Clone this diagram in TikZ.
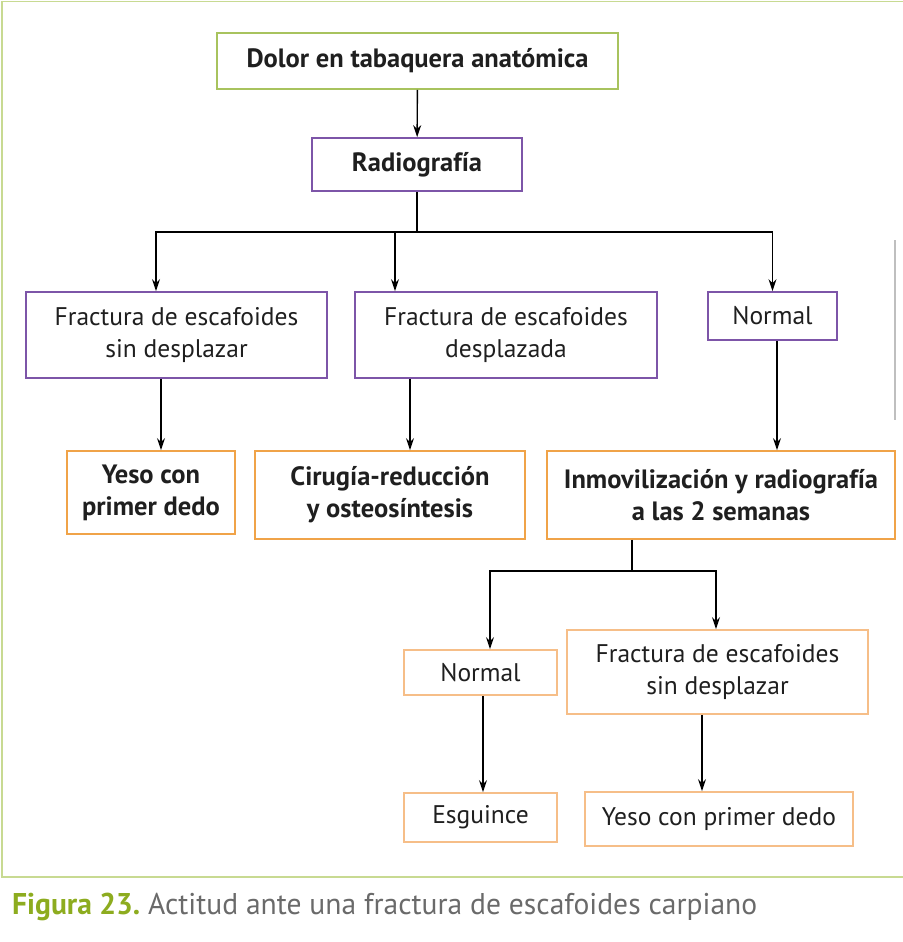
\documentclass[tikz,border=0pt]{standalone}
\usepackage{fontspec}
\setmainfont{PT Sans}
\usetikzlibrary{arrows.meta}
\definecolor{marco}{HTML}{C8DA92}
\definecolor{verdecaja}{HTML}{A8C35E}
\definecolor{morado}{HTML}{7D55A8}
\definecolor{naranja}{HTML}{F0A348}
\definecolor{naranjaclaro}{HTML}{F6BE88}
\definecolor{verdepie}{HTML}{8DAC1F}
\definecolor{grispie}{HTML}{6A6A6A}
\begin{document}
\begin{tikzpicture}[x=1pt,y=-1pt,
    caja/.style={draw, line width=1.8pt, inner sep=0pt, align=center,
      font=\fontsize{25.5}{32}\selectfont, text=black!88},
    cajab/.style={caja, font=\fontsize{26.5}{32}\selectfont\bfseries},
    flecha/.style={line width=1.4pt, -{Stealth[length=12pt,width=8pt]}},
    linea/.style={line width=1.4pt}]
  \useasboundingbox (0,0) rectangle (902,942);
  % marco exterior
  \draw[marco, line width=1.6pt] (905,1.5) -- (2,1.5) -- (2,877) -- (905,877);
  \draw[black!25, line width=1.2pt] (895,240) -- (895,420);

  % cajas
  \node[cajab, draw=verdecaja, minimum width=401pt, minimum height=56pt] (dolor) at (417.5,61) {Dolor en tabaquera anatómica};
  \node[cajab, draw=morado, minimum width=210pt, minimum height=53pt] (radio) at (417,164.5) {Radiografía};
  \node[caja, draw=morado, minimum width=301pt, minimum height=86pt] (fsd) at (176.5,335) {Fractura de escafoides\\sin desplazar};
  \node[caja, draw=morado, minimum width=302pt, minimum height=86pt] (fd) at (506,335) {Fractura de escafoides\\desplazada};
  \node[caja, draw=morado, minimum width=129pt, minimum height=48pt] (norm) at (772.5,316) {Normal};
  \node[cajab, draw=naranja, minimum width=168pt, minimum height=83pt] (yeso) at (151,492.5) {Yeso con\\primer dedo};
  \node[cajab, draw=naranja, minimum width=270pt, minimum height=88pt] (ciru) at (390,495) {Cirugía-reducción\\y osteosíntesis};
  \node[cajab, draw=naranja, minimum width=348pt, minimum height=88pt] (inmo) at (721,495) {Inmovilización y radiografía\\a las 2 semanas};
  \node[caja, draw=naranjaclaro, minimum width=153pt, minimum height=45pt] (normb) at (480.5,672.5) {Normal};
  \node[caja, draw=naranjaclaro, minimum width=301pt, minimum height=84pt] (fsdb) at (717.5,672) {Fractura de escafoides\\sin desplazar};
  \node[caja, draw=naranjaclaro, minimum width=153pt, minimum height=49pt] (esg) at (480.5,817.5) {Esguince};
  \node[caja, draw=naranjaclaro, minimum width=268pt, minimum height=54pt] (yesob) at (719,819) {Yeso con primer dedo};

  % conectores
  \coordinate (bus) at (417,232);
  \coordinate (busb) at (632,571);
  \draw[flecha] (dolor) -- (radio);
  \draw[linea] (radio) -- (bus);
  \draw[flecha] (bus) -| ([xshift=-20.5pt]fsd.north);
  \draw[flecha] (bus) -| ([xshift=-111pt]fd.north);
  \draw[flecha] (bus) -| (norm.north);
  \draw[flecha] ([xshift=-15.5pt]fsd.south) -- ([xshift=-15.5pt]fsd.south |- yeso.north);
  \draw[flecha] ([xshift=-96pt]fd.south) -- ([xshift=-96pt]fd.south |- ciru.north);
  \draw[flecha] ([xshift=4.5pt]norm.south) -- ([xshift=4.5pt]norm.south |- inmo.north);
  \draw[linea] (inmo.south -| busb) -- (busb);
  \draw[flecha] (busb) -| ([xshift=9.5pt]normb.north);
  \draw[flecha] (busb) -| ([xshift=-1.5pt]fsdb.north);
  \draw[flecha] ([xshift=2.5pt]normb.south) -- ([xshift=2.5pt]normb.south |- esg.north);
  \draw[flecha] ([xshift=-15.5pt]fsdb.south) -- ([xshift=-15.5pt]fsdb.south |- yesob.north);

  % pie de figura
  \node[anchor=base west, inner sep=0pt] (pie) at (12,914)
    {\resizebox{745pt}{\height}{\fontsize{30}{36}\selectfont\textcolor{verdepie}{\bfseries Figura 23.}\ \textcolor{grispie}{Actitud ante una fractura de escafoides carpiano}}};
\end{tikzpicture}
\end{document}
